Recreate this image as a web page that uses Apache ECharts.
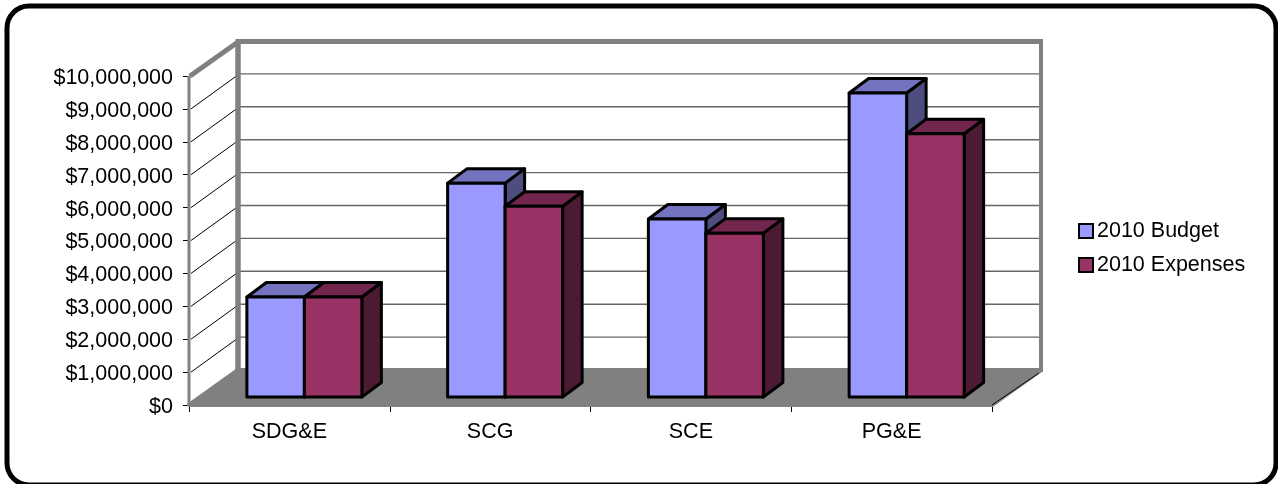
<!DOCTYPE html>
<html><head><meta charset="utf-8">
<style>html,body{margin:0;padding:0;background:#fff}#c{width:1278px;height:484px}</style>
<script src="https://cdn.jsdelivr.net/npm/echarts@6/dist/echarts.min.js"></script>
</head><body><div id="c"></div>
<script>
var categories = ['SDG&E','SCG','SCE','PG&E'];
var budget2010 = [3040000,6500000,5410000,9240000];
var expenses2010 = [3040000,5800000,4980000,8000000];
var yTicks = [0,1000000,2000000,3000000,4000000,5000000,6000000,7000000,8000000,9000000,10000000];

var DX=49, DY=-34;            // wall depth in pixels
var BAR_W=57.5, BAR_SHIFT=15, BAR_LIFT=-8, BAR_DX=19.5, BAR_DY=-14.5;
var FONT='"Liberation Sans", Arial, sans-serif';

function poly(pts,fill,stroke,lw){
  return {type:'polygon',shape:{points:pts},style:{fill:fill,stroke:stroke||null,lineWidth:lw||0,lineJoin:'round'}};
}
function seg(x1,y1,x2,y2,col,lw){
  return {type:'line',shape:{x1:x1,y1:y1,x2:x2,y2:y2},style:{stroke:col,lineWidth:lw,fill:null}};
}
function renderWalls(params,api){
  var r=params.coordSys, L=r.x, R=r.x+r.width, T=r.y, B=r.y+r.height, kids=[];
  var G='#808080';
  kids.push(poly([[L,B],[L+DX,B+DY-1],[R+DX,B+DY-1],[R,B]],G,G,4));
  yTicks.forEach(function(v){
    var y=api.coord([0,v])[1];
    if(v>0&&v<10000000){
      kids.push(seg(L+2,y,L+DX,y+DY,'#000',1));
      kids.push(seg(L+DX,y+DY-1,R+DX,y+DY-1,'#666',1.4));
    }
  });
  kids.push(seg(L,B,L,T,G,3));
  kids.push(seg(L+1,T,L+DX,T+DY,G,5));
  kids.push(seg(L+DX-2.5,T+DY-0.5,R+DX+2,T+DY-0.5,G,5));
  kids.push(seg(L+DX,T+DY,L+DX,B+DY,G,5.5));
  kids.push(seg(R+DX,T+DY-2,R+DX,B+DY+1,G,4));
  kids.push(seg(R,B,R+DX-2,B+DY+2,'#000',1));
  return {type:'group',children:kids};
}
function barRenderer(slot,front,top,side){
  return function(params,api){
    var i=api.value(0), v=api.value(1);
    var base=api.coord([i,0]), head=api.coord([i,v]);
    var x0=base[0]+BAR_SHIFT+(slot-1)*BAR_W, x1=x0+BAR_W;
    var yb=base[1]+BAR_LIFT, yt=head[1]+BAR_LIFT, K='#000', W=3;
    return {type:'group',children:[
      poly([[x1,yb],[x1+BAR_DX,yb+BAR_DY],[x1+BAR_DX,yt+BAR_DY],[x1,yt]],side,K,W),
      poly([[x0,yt],[x0+BAR_DX,yt+BAR_DY],[x1+BAR_DX,yt+BAR_DY],[x1,yt]],top,K,W),
      poly([[x0,yb],[x0,yt],[x1,yt],[x1,yb]],front,K,W)
    ]};
  };
}
function pairs(a){return a.map(function(v,i){return [i,v];});}

var chart=echarts.init(document.getElementById('c'),null,{renderer:'canvas'});
chart.setOption({
  animation:false,
  backgroundColor:'#fff',
  graphic:[{type:'rect',silent:true,z:100,
    shape:{x:7,y:6,width:1269,height:479,r:22},
    style:{fill:null,stroke:'#000',lineWidth:5}}],
  grid:{left:189,top:76,width:803,height:329,containLabel:false},
  legend:{
    left:1078,top:220,padding:0,orient:'vertical',itemWidth:14,itemHeight:14,itemGap:12,
    data:['2010 Budget','2010 Expenses'],icon:'rect',
    textStyle:{fontFamily:FONT,fontSize:21.5,color:'#000',padding:[0,0,0,-1]},
    selectedMode:false
  },
  xAxis:{type:'category',data:categories,boundaryGap:true,
    axisLine:{lineStyle:{color:'#000',width:1}},
    axisTick:{show:true,alignWithLabel:false,length:7,lineStyle:{color:'#000'}},
    axisLabel:{fontFamily:FONT,fontSize:21.5,color:'#000',margin:16},
    splitLine:{show:false}},
  yAxis:{type:'value',min:0,max:10000000,interval:1000000,
    axisLine:{show:true,lineStyle:{color:'#000',width:1}},
    axisTick:{show:true,length:6,lineStyle:{color:'#000'}},
    axisLabel:{color:'#000',margin:16,
      formatter:function(v){return '{t|$'+String(v).replace(/\B(?=(\d{3})+$)/g,',')+'}';},
      rich:{t:{fontFamily:FONT,fontSize:21.5,color:'#000',padding:[4,0,0,0]}}},
    splitLine:{show:false}},
  series:[
    {type:'custom',name:'walls',silent:true,z:1,data:[[0,0]],renderItem:renderWalls},
    {type:'custom',name:'2010 Budget',z:2,data:pairs(budget2010),encode:{x:0,y:1},
      itemStyle:{color:'#9999FF',borderColor:'#000',borderWidth:2.5},
      renderItem:barRenderer(0,'#9999FF','#7373BF','#4D4D80')},
    {type:'custom',name:'2010 Expenses',z:3,data:pairs(expenses2010),encode:{x:0,y:1},
      itemStyle:{color:'#993366',borderColor:'#000',borderWidth:2.5},
      renderItem:barRenderer(1,'#993366','#73264D','#4D1A33')}
  ]
});
</script></body></html>
